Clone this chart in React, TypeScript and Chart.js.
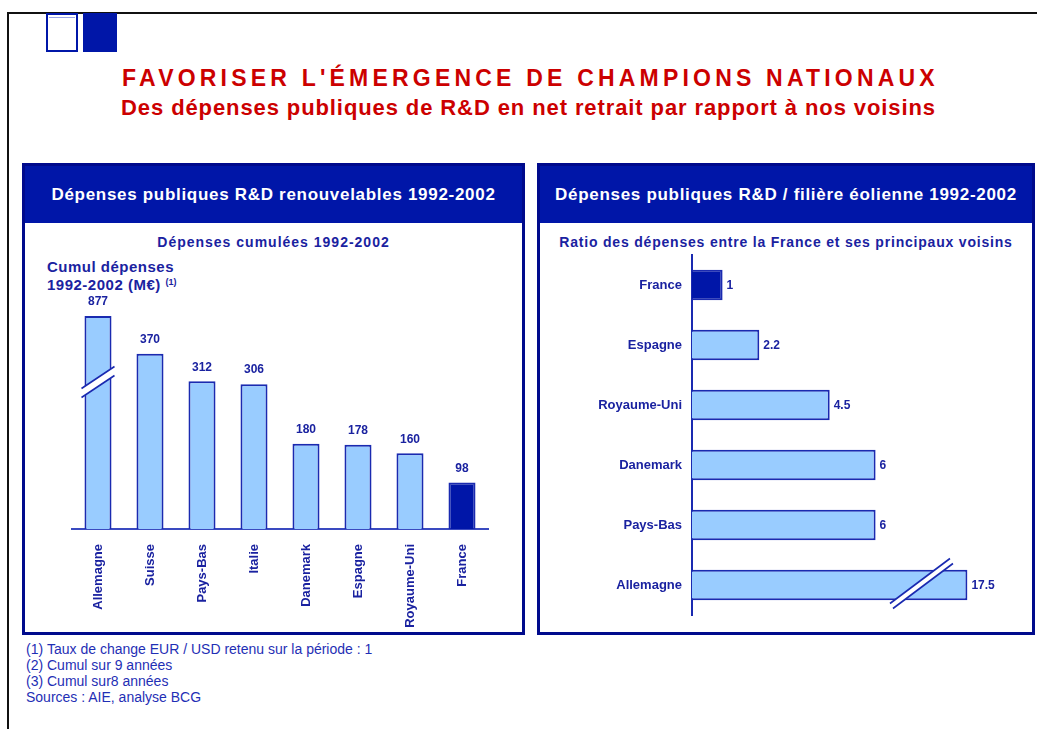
import React, { useEffect, useRef } from 'react';
import { Chart, registerables } from 'chart.js';

Chart.register(...registerables);

// ---------- data ----------
const leftCategories = ['Allemagne', 'Suisse', 'Pays-Bas', 'Italie', 'Danemark', 'Espagne', 'Royaume-Uni', 'France'];
const leftValues = [877, 370, 312, 306, 180, 178, 160, 98];
const leftAxisMax = 450; // axis broken above this value
const leftBreakValue = 320;

const rightCategories = ['France', 'Espagne', 'Royaume-Uni', 'Danemark', 'Pays-Bas', 'Allemagne'];
const rightValues = [1, 2.2, 4.5, 6, 6, 17.5];
const rightAxisMax = 10;
const rightDisplayCap = 9; // axis broken above this value
const rightBreakValue = 7.45;

const footnotes = [
  '(1)\u00a0Taux de change EUR / USD retenu sur la période : 1',
  '(2)\u00a0Cumul sur 9 années',
  '(3)\u00a0Cumul sur8 années',
  'Sources : AIE, analyse BCG',
];

// ---------- styles ----------
const FONT = '"Liberation Sans", Arial, Helvetica, sans-serif';
const NAVY = '#0016a8';
const DARK_NAVY = '#000a8c';
const LIGHT = '#99ccff';
const BAR_BORDER = '#1a2ab0';
const TEXT = '#1a22a0';
const RED = '#cc0000';

const barLabelsPlugin = {
  id: 'barLabels',
  afterDatasetsDraw(chart: any, _args: any, opts: any) {
    const meta = chart.getDatasetMeta(0);
    const ctx = chart.ctx;
    ctx.save();
    ctx.font = `bold ${opts.size}px ${FONT}`;
    ctx.fillStyle = opts.color;
    meta.data.forEach((bar: any, i: number) => {
      const text = String(opts.values[i]);
      if (opts.horizontal) {
        ctx.textAlign = 'left';
        ctx.textBaseline = 'middle';
        ctx.fillText(text, bar.x + opts.offset, bar.y + 1);
      } else {
        ctx.textAlign = 'center';
        ctx.textBaseline = 'bottom';
        ctx.fillText(text, bar.x, bar.y - opts.offset);
      }
    });
    ctx.restore();
  },
};

const axisBreakPlugin = {
  id: 'axisBreak',
  afterDatasetsDraw(chart: any, _args: any, opts: any) {
    const bar = chart.getDatasetMeta(0).data[opts.index];
    if (!bar) return;
    let cx: number, cy: number;
    if (opts.horizontal) {
      cx = chart.scales.x.getPixelForValue(opts.value);
      cy = bar.y + opts.shift;
    } else {
      cx = bar.x;
      cy = chart.scales.y.getPixelForValue(opts.value);
    }
    const [dx, dy] = opts.half;
    const [ox, oy] = opts.gap;
    const ctx = chart.ctx;
    ctx.save();
    ctx.beginPath();
    ctx.moveTo(cx - dx, cy + dy);
    ctx.lineTo(cx + dx, cy - dy);
    ctx.lineTo(cx + dx + ox, cy - dy + oy);
    ctx.lineTo(cx - dx + ox, cy + dy + oy);
    ctx.closePath();
    ctx.fillStyle = '#ffffff';
    ctx.fill();
    ctx.strokeStyle = BAR_BORDER;
    ctx.lineWidth = 1.6;
    ctx.beginPath();
    ctx.moveTo(cx - dx, cy + dy);
    ctx.lineTo(cx + dx, cy - dy);
    ctx.moveTo(cx - dx + ox, cy + dy + oy);
    ctx.lineTo(cx + dx + ox, cy - dy + oy);
    ctx.stroke();
    ctx.restore();
  },
};

function leftConfig(): any {
  return {
    type: 'bar',
    data: {
      labels: leftCategories,
      datasets: [
        {
          data: leftValues.map((v) => Math.min(v, leftAxisMax)),
          backgroundColor: leftCategories.map((c) => (c === 'France' ? NAVY : LIGHT)),
          borderColor: BAR_BORDER,
          borderWidth: 2,
          borderSkipped: 'start',
          categoryPercentage: 1,
          barPercentage: 0.52,
        },
      ],
    },
    options: {
      responsive: false,
      animation: false,
      layout: { padding: { left: 12, right: 12, top: 26, bottom: 0 } },
      plugins: {
        legend: { display: false },
        tooltip: { enabled: false },
        barLabels: { values: leftValues, size: 12, color: TEXT, offset: 8, horizontal: false },
        axisBreak: { index: 0, value: leftBreakValue, half: [16.5, 11], gap: [0, 9], horizontal: false },
      },
      scales: {
        x: {
          grid: { display: false, drawTicks: false },
          border: { display: true, color: '#3a4ac0', width: 2 },
          ticks: {
            minRotation: 90,
            maxRotation: 90,
            autoSkip: false,
            padding: 15,
            color: TEXT,
            font: { family: FONT, size: 13, weight: 'bold' },
          },
          afterFit: (s: any) => {
            s.height = 103;
          },
        },
        y: { display: false, min: 0, max: leftAxisMax },
      },
    },
    plugins: [barLabelsPlugin, axisBreakPlugin],
  };
}

function rightConfig(): any {
  return {
    type: 'bar',
    data: {
      labels: rightCategories,
      datasets: [
        {
          data: rightValues.map((v) => Math.min(v, rightDisplayCap)),
          backgroundColor: rightCategories.map((c) => (c === 'France' ? NAVY : LIGHT)),
          borderColor: BAR_BORDER,
          borderWidth: 2,
          borderSkipped: 'start',
          categoryPercentage: 1,
          barPercentage: 0.51,
        },
      ],
    },
    options: {
      indexAxis: 'y',
      responsive: false,
      animation: false,
      layout: { padding: { left: 20, right: 22, top: 10, bottom: 10 } },
      plugins: {
        legend: { display: false },
        tooltip: { enabled: false },
        barLabels: { values: rightValues, size: 12, color: TEXT, offset: 4, horizontal: true },
        axisBreak: { index: 5, value: rightBreakValue, half: [30, 22.5], gap: [3, 5], shift: -4, horizontal: true },
      },
      scales: {
        x: { display: false, min: 0, max: rightAxisMax },
        y: {
          grid: { display: false, drawTicks: false },
          border: { display: true, color: BAR_BORDER, width: 2 },
          ticks: {
            padding: 10,
            color: TEXT,
            font: { family: FONT, size: 13, weight: 'bold' },
          },
          afterFit: (s: any) => {
            s.width = 132;
            s.paddingTop = 0;
            s.paddingBottom = 0;
          },
        },
      },
    },
    plugins: [barLabelsPlugin, axisBreakPlugin],
  };
}

function ChartCanvas(props: { make: () => any; left: number; top: number; width: number; height: number }) {
  const ref = useRef<HTMLCanvasElement>(null);
  useEffect(() => {
    const chart = new Chart(ref.current as HTMLCanvasElement, props.make());
    return () => chart.destroy();
  }, []);
  return (
    <canvas
      ref={ref}
      width={props.width}
      height={props.height}
      style={{ position: 'absolute', left: props.left, top: props.top, width: props.width, height: props.height }}
    />
  );
}

function Panel(props: { left: number; width: number; title: string }) {
  return (
    <div
      style={{
        position: 'absolute',
        left: props.left,
        top: 163,
        width: props.width,
        height: 472,
        border: `3px solid ${DARK_NAVY}`,
        boxSizing: 'border-box',
        background: '#fff',
      }}
    >
      <div
        style={{
          height: 57,
          background: NAVY,
          color: '#fff',
          fontFamily: FONT,
          fontWeight: 'bold',
          fontSize: 17,
          letterSpacing: 0.7,
          paddingTop: 0,
          display: 'flex',
          alignItems: 'center',
          justifyContent: 'center',
          whiteSpace: 'nowrap',
        }}
      >
        {props.title}
      </div>
    </div>
  );
}

export default function App() {
  const abs = (s: any) => ({ position: 'absolute' as const, ...s });
  return (
    <div style={abs({ left: 0, top: 0, width: 1037, height: 729, background: '#fff', overflow: 'hidden', fontFamily: FONT })}>
      {/* slide frame */}
      <div style={abs({ left: 8, top: 12, width: 1029, height: 2, background: '#111' })} />
      <div style={abs({ left: 7, top: 12, width: 2, height: 717, background: '#111' })} />
      {/* logo */}
      <div style={abs({ left: 46, top: 13, width: 32, height: 39, border: `2px solid ${NAVY}`, boxSizing: 'border-box', background: '#fff' })}>
        <div style={abs({ left: 1, top: 2, width: 26, height: 1, background: '#9aa4e6' })} />
      </div>
      <div style={abs({ left: 83, top: 13, width: 34, height: 39, background: NAVY })} />
      {/* titles */}
      <div style={abs({ left: 12, top: 65, width: 1037, textAlign: 'center', color: RED, fontWeight: 'bold', fontSize: 23, lineHeight: '26px', letterSpacing: 4.2, whiteSpace: 'nowrap' })}>
        FAVORISER L'ÉMERGENCE DE CHAMPIONS NATIONAUX
      </div>
      <div style={abs({ left: 10, top: 96, width: 1037, textAlign: 'center', color: RED, fontWeight: 'bold', fontSize: 22, lineHeight: '24px', letterSpacing: 0.9, whiteSpace: 'nowrap' })}>
        Des dépenses publiques de R&amp;D en net retrait par rapport à nos voisins
      </div>

      {/* left panel */}
      <Panel left={22} width={503} title="Dépenses publiques R&D renouvelables 1992-2002" />
      <div style={abs({ left: 22, top: 233, width: 503, textAlign: 'center', color: TEXT, fontWeight: 'bold', fontSize: 14, lineHeight: '18px', letterSpacing: 1, whiteSpace: 'nowrap' })}>
        Dépenses cumulées 1992-2002
      </div>
      <div style={abs({ left: 47, top: 258, color: TEXT, fontWeight: 'bold', fontSize: 15, lineHeight: '18px', letterSpacing: 0.5, whiteSpace: 'nowrap' })}>
        Cumul dépenses
        <br />
        1992-2002 (M€) <span style={{ fontSize: 9, verticalAlign: 'top', lineHeight: '12px', letterSpacing: 0 }}>(1)</span>
      </div>
      <ChartCanvas make={leftConfig} left={60} top={290} width={440} height={342} />

      {/* right panel */}
      <Panel left={537} width={498} title="Dépenses publiques R&D / filière éolienne 1992-2002" />
      <div style={abs({ left: 537, top: 233, width: 498, textAlign: 'center', color: TEXT, fontWeight: 'bold', fontSize: 14, lineHeight: '18px', letterSpacing: 0.8, whiteSpace: 'nowrap' })}>
        Ratio des dépenses entre la France et ses principaux voisins
      </div>
      <ChartCanvas make={rightConfig} left={540} top={245} width={480} height={380} />

      {/* footnotes */}
      <div style={abs({ left: 26, top: 641, color: '#1f2fb5', fontSize: 14, lineHeight: '16px', whiteSpace: 'nowrap' })}>
        {footnotes.map((f) => (
          <div key={f}>{f}</div>
        ))}
      </div>
    </div>
  );
}
